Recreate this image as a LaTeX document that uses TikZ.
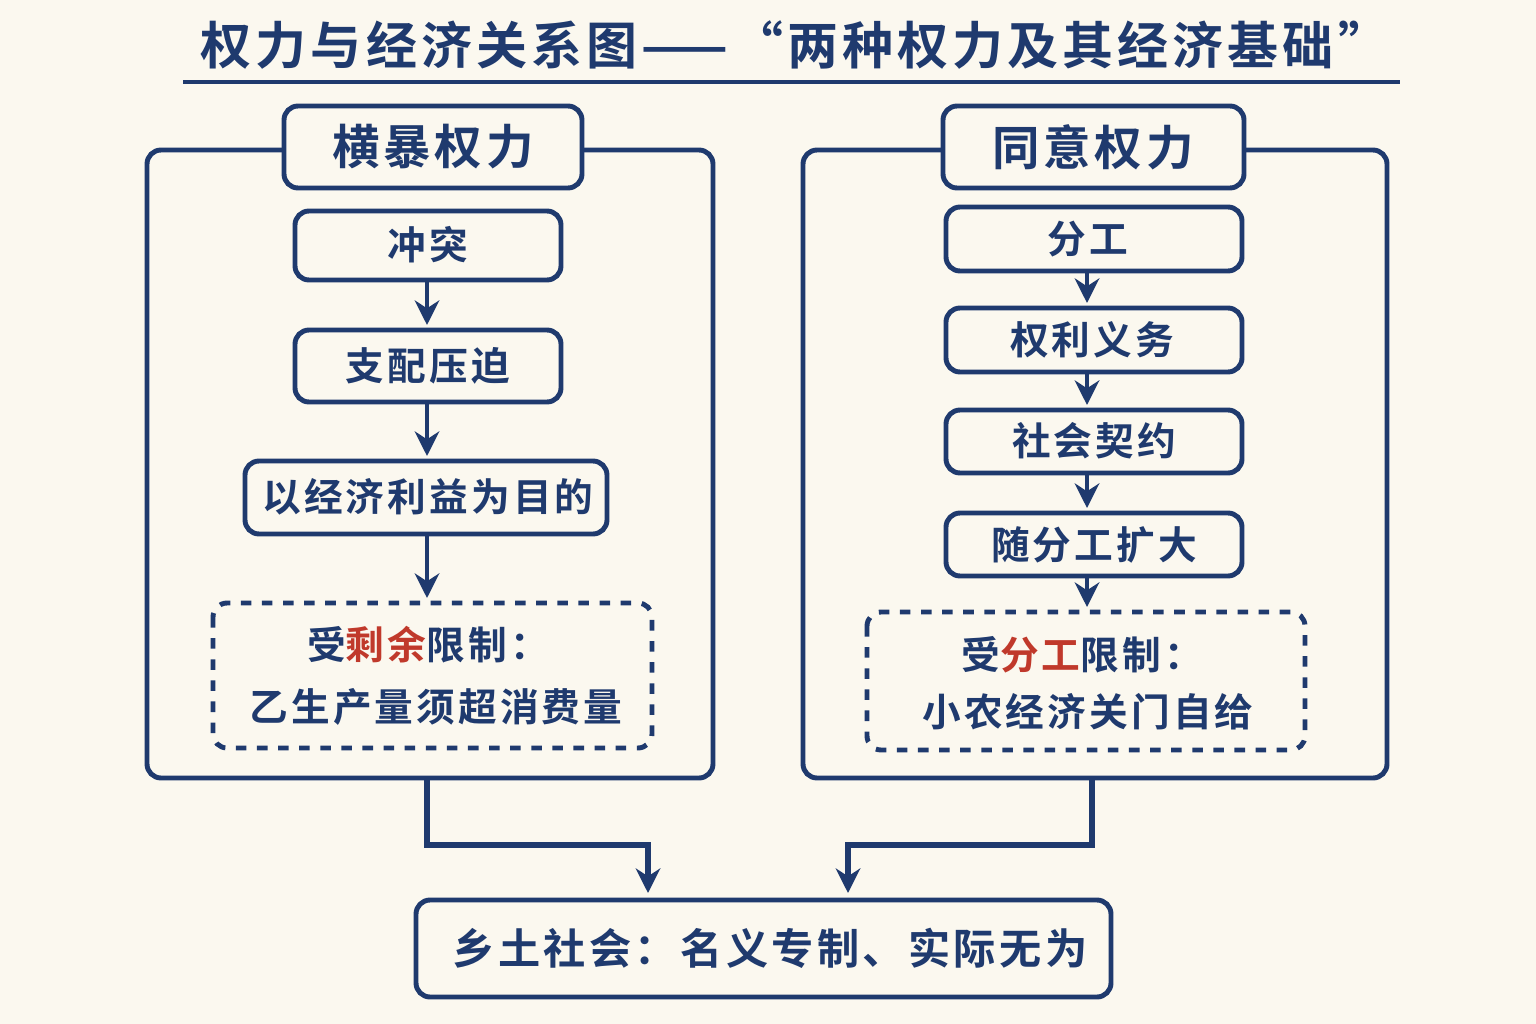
\documentclass[tikz,border=0pt]{standalone}
\usepackage{fontspec}
\newfontfamily\cjk{Noto Sans CJK SC}[BoldFont={Noto Sans CJK SC Bold},LetterSpace=8]
\usetikzlibrary{arrows.meta}
\definecolor{navy}{HTML}{1F3A6E}
\definecolor{red}{HTML}{C0392B}
\definecolor{bg}{HTML}{FBF8EF}
\begin{document}
\begin{tikzpicture}[x=0.01cm,y=-0.01cm,
  bx/.style={draw=navy,line width=1.4pt,rounded corners=4pt,fill=bg},
  txt/.style={text=navy,font=\cjk\bfseries\fontsize{11}{13}\selectfont},
  hd/.style={text=navy,font=\cjk\bfseries\fontsize{13.5}{15}\selectfont},
  ar/.style={draw=navy,line width=1.4pt,-{Stealth[length=7pt,width=7pt]}}]
\fill[bg] (0,0) rectangle (1536,1024);
\useasboundingbox (0,0) rectangle (1536,1024);
\node[text=navy,font=\cjk\bfseries\fontsize{14.5}{16}\selectfont] (title) at (795,45) {权力与经济关系图——“两种权力及其经济基础”};
\draw[navy,line width=1.2pt] (183,82) -- (1400,82);
% left
\draw[bx,fill=none] (147,150) rectangle (713,778);
\draw[bx] (284,106) rectangle (582,188); \node[hd] (lh) at (433,147) {横暴权力};
\draw[bx] (295,211) rectangle (561,280); \node[txt] (l1) at (428,245) {冲突};
\draw[bx] (295,330) rectangle (561,402); \node[txt] (l2) at (428,366) {支配压迫};
\draw[bx] (245,461) rectangle (607,534); \node[txt] (l3) at (428,497) {以经济利益为目的};
\draw[bx,dashed] (213,603) rectangle (652,748);
\node[txt] (l4) at (428,645) {受\textcolor{red}{剩余}限制：};
\node[txt] (l5) at (436,707) {乙生产量须超消费量};
\draw[ar] (427,280) -- (427,325);
\draw[ar] (427,402) -- (427,456);
\draw[ar] (427,534) -- (427,598);
% right
\draw[bx,fill=none] (803,150) rectangle (1387,778);
\draw[bx] (943,106) rectangle (1244,188); \node[hd] (rh) at (1093,147) {同意权力};
\draw[bx] (946,207) rectangle (1242,271); \node[txt] (r1) at (1088,239) {分工};
\draw[bx] (946,308) rectangle (1242,372); \node[txt] (r2) at (1092,340) {权利义务};
\draw[bx] (946,410) rectangle (1242,473); \node[txt] (r3) at (1094,441) {社会契约};
\draw[bx] (946,513) rectangle (1242,576); \node[txt] (r4) at (1094,545) {随分工扩大};
\draw[bx,dashed] (867,612) rectangle (1305,750);
\node[txt] (r5) at (1082,655) {受\textcolor{red}{分工}限制：};
\node[txt] (r6) at (1088,712) {小农经济关门自给};
\draw[ar] (1087,271) -- (1087,303);
\draw[ar] (1087,372) -- (1087,405);
\draw[ar] (1087,473) -- (1087,508);
\draw[ar] (1087,576) -- (1087,607);
% bottom
\draw[bx] (416,900) rectangle (1111,997);
\node[txt,font=\cjk\bfseries\fontsize{12}{14}\selectfont] (b) at (770,948) {乡土社会：名义专制、实际无为};
\draw[ar,line width=1.8pt] (427,778) -- (427,845) -- (648,845) -- (648,893);
\draw[ar,line width=1.8pt] (1092,778) -- (1092,845) -- (848,845) -- (848,893);
\end{tikzpicture}
\end{document}
